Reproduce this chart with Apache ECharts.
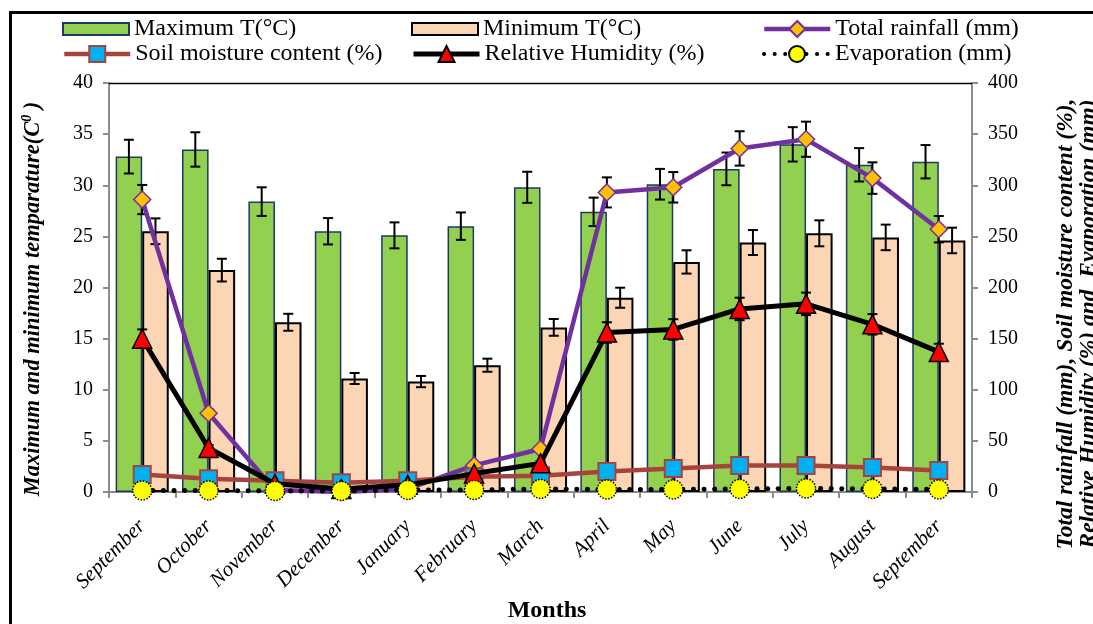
<!DOCTYPE html>
<html>
<head>
<meta charset="utf-8">
<script src="https://cdn.jsdelivr.net/npm/echarts@6/dist/echarts.min.js"></script>
<style>
html,body{margin:0;padding:0;background:#fff;}
#chart{width:1093px;height:624px;}
</style>
</head>
<body>
<div id="chart"></div>
<script>
const months = ['September','October','November','December','January','February','March','April','May','June','July','August','September'];
const maxT = [32.8,33.5,28.4,25.5,25.1,26.0,29.8,27.4,30.1,31.6,34.0,32.0,32.3];
const maxTErr = [1.65,1.68,1.40,1.29,1.27,1.34,1.52,1.39,1.50,1.60,1.68,1.63,1.63];
const minT = [25.5,21.7,16.6,11.1,10.8,12.4,16.1,19.0,22.5,24.4,25.3,24.9,24.6];
const minTErr = [1.26,1.11,0.83,0.54,0.55,0.64,0.82,0.98,1.14,1.22,1.27,1.25,1.25];
const rainfall = [286,77,2,0,3,26,42,293,298,336,345,307,257];
const rainErr = [14.3,3.8,0.1,0,0.2,1.3,2.1,14.7,14.9,16.8,17.2,15.4,12.9];
const soilMoisture = [17,13,11,9,11,15,16,20,23,26,26,24,21];
const humidity = [150,43,8,3,7,18,28,156,159,179,184,164,137];
const humErr = [9,3,0.5,0.2,0.5,1,2,10,10,11,11,10,8];
const evaporation = [1.5,1.5,1,1,2,2,3,2.5,2.5,3,3.5,3,2.5];
const leftTicks = {min:0,max:40,interval:5};
const rightTicks = {min:0,max:400,interval:50};

const FONT = "'Liberation Serif','Times New Roman',serif";

function errData(vals, errs){ return vals.map((v,i)=>[i, v, errs[i]]); }
function errRender(offsetFactor){
  return function(params, api){
    const x = api.value(0), v = api.value(1), e = api.value(2);
    const top = api.coord([x, v+e]);
    const bot = api.coord([x, v-e]);
    const bw = api.size([1,0])[0];
    const cx = top[0] + offsetFactor*bw;
    const cap = 5;
    const st = {stroke:'#000', lineWidth:2};
    return {type:'group', children:[
      {type:'line', shape:{x1:cx,y1:top[1],x2:cx,y2:bot[1]}, style:st},
      {type:'line', shape:{x1:cx-cap,y1:top[1],x2:cx+cap,y2:top[1]}, style:st},
      {type:'line', shape:{x1:cx-cap,y1:bot[1],x2:cx+cap,y2:bot[1]}, style:st}
    ]};
  };
}

const chart = echarts.init(document.getElementById('chart'), null, {renderer:'canvas'});

function legendAt(name, left, top, itemHeight, lineWidth, icon){
  const l = {
    data:[name], left:left, top:top, padding:0, itemWidth:66, itemHeight:itemHeight,
    itemGap:0, selectedMode:false,
    textStyle:{fontFamily:FONT, fontSize:24, color:'#000', lineHeight:26}
  };
  if (lineWidth) l.lineStyle = {width:lineWidth};
  if (icon) l.icon = icon;
  return l;
}

const option = {
  backgroundColor:'#fff',
  animation:false,
  legend:[
    legendAt('Maximum T(°C)', 62, 16, 12, null, 'rect'),
    legendAt('Soil moisture content (%)', 62, 41, 20, 4.5),
    legendAt('Minimum T(°C)', 411, 16, 12, null, 'rect'),
    legendAt('Relative Humidity (%)', 411, 41, 20, 5),
    legendAt('Total rainfall (mm)', 762, 16, 20, 4.5),
    legendAt('Evaporation (mm)', 762, 41, 20, 4)
  ],
  grid:{left:109, right:121, top:83, bottom:132, containLabel:false},
  xAxis:{
    type:'category', data:months, boundaryGap:true,
    axisLine:{lineStyle:{color:'#8c8c8c', width:2}},
    axisTick:{show:true, alignWithLabel:false, length:6, lineStyle:{color:'#8c8c8c', width:2}, interval:0},
    axisLabel:{interval:0, rotate:45, margin:31, fontFamily:FONT, fontSize:21, fontStyle:'italic', color:'#000'},
    splitLine:{show:false}
  },
  yAxis:[
    {type:'value', min:leftTicks.min, max:leftTicks.max, interval:leftTicks.interval,
     axisLine:{show:true, lineStyle:{color:'#8c8c8c', width:2}},
     axisTick:{show:true, length:6, lineStyle:{color:'#8c8c8c', width:2}},
     axisLabel:{margin:16, fontFamily:FONT, fontSize:20, color:'#000'},
     splitLine:{show:false}},
    {type:'value', min:rightTicks.min, max:rightTicks.max, interval:rightTicks.interval,
     axisLine:{show:true, lineStyle:{color:'#8c8c8c', width:2}},
     axisTick:{show:true, length:6, lineStyle:{color:'#8c8c8c', width:2}},
     axisLabel:{margin:16, fontFamily:FONT, fontSize:20, color:'#000'},
     splitLine:{show:false}}
  ],
  graphic:[
    {type:'rect', shape:{x:10.5, y:12.5, width:1200, height:800}, style:{fill:'none', stroke:'#000', lineWidth:3}, z:100, silent:true},
    {type:'line', shape:{x1:109, y1:83.5, x2:972, y2:83.5}, style:{stroke:'#000', lineWidth:1.5}, z:100, silent:true},
    {type:'text', x:547, y:611, style:{text:'Months', font:"bold 24px 'Liberation Serif'", fill:'#000', align:'center', verticalAlign:'middle'}, z:100},
    {type:'text', x:33, y:299, rotation:Math.PI/2,
     style:{text:'{a|Maximum and minimum temparature(C}{s|0}{a| )}', align:'center', verticalAlign:'middle',
       rich:{a:{fontFamily:FONT, fontSize:22.5, fontWeight:'bold', fontStyle:'italic', fill:'#000', lineHeight:26},
             s:{fontFamily:FONT, fontSize:14, fontWeight:'bold', fontStyle:'italic', fill:'#000', lineHeight:26, verticalAlign:'top'}}}, z:100},
    {type:'text', x:1077, y:324, rotation:Math.PI/2,
     style:{text:'Total rainfall (mm), Soil moisture content (%),\nRelative Humidity (%) and  Evaporation (mm)', align:'center', verticalAlign:'middle',
       font:"italic bold 23.5px 'Liberation Serif'", fill:'#000', lineHeight:23}, z:100}
  ],
  series:[
    {name:'Maximum T(°C)', type:'bar', data:maxT, yAxisIndex:0, barGap:'0%', barCategoryGap:'20%',
     itemStyle:{color:'#92D050', borderColor:'#1F3864', borderWidth:1.5}, z:2},
    {name:'Minimum T(°C)', type:'bar', data:minT, yAxisIndex:0,
     itemStyle:{color:'#FCD5B5', borderColor:'#000', borderWidth:2}, z:2},
    {name:'maxErr', type:'custom', data:errData(maxT,maxTErr), yAxisIndex:0, renderItem:errRender(-0.2), encode:{x:0,y:1}, z:3, silent:true},
    {name:'minErr', type:'custom', data:errData(minT,minTErr), yAxisIndex:0, renderItem:errRender(0.2), encode:{x:0,y:1}, z:3, silent:true},
    {name:'rainErr', type:'custom', data:errData(rainfall,rainErr), yAxisIndex:1, renderItem:errRender(0), encode:{x:0,y:1}, z:4, silent:true},
    {name:'humErr', type:'custom', data:errData(humidity,humErr), yAxisIndex:1, renderItem:errRender(0), encode:{x:0,y:1}, z:4, silent:true},
    {name:'Total rainfall (mm)', type:'line', data:rainfall, yAxisIndex:1, symbol:'diamond', symbolSize:17,
     lineStyle:{color:'#7030A0', width:4.5}, itemStyle:{color:'#FFC000', borderColor:'#7030A0', borderWidth:1.5}, z:5},
    {name:'Soil moisture content (%)', type:'line', data:soilMoisture, yAxisIndex:1, symbol:'rect', symbolSize:17,
     lineStyle:{color:'#A5443F', width:4.5}, itemStyle:{color:'#00B0F0', borderColor:'#A5443F', borderWidth:2}, z:6},
    {name:'Relative Humidity (%)', type:'line', data:humidity, yAxisIndex:1, symbol:'triangle', symbolSize:19,
     lineStyle:{color:'#000', width:5}, itemStyle:{color:'#FF0000', borderColor:'#000', borderWidth:1.5}, z:7},
    {name:'Evaporation (mm)', type:'line', data:evaporation, yAxisIndex:1, symbol:'circle', symbolSize:19,
     lineStyle:{color:'#000', width:5, type:[0.1,10.5], cap:'round'},
     itemStyle:{color:'#FFFF00', borderColor:'#000', borderWidth:1.5, borderType:'dotted'}, z:8}
  ]
};
chart.setOption(option);
</script>
</body>
</html>
